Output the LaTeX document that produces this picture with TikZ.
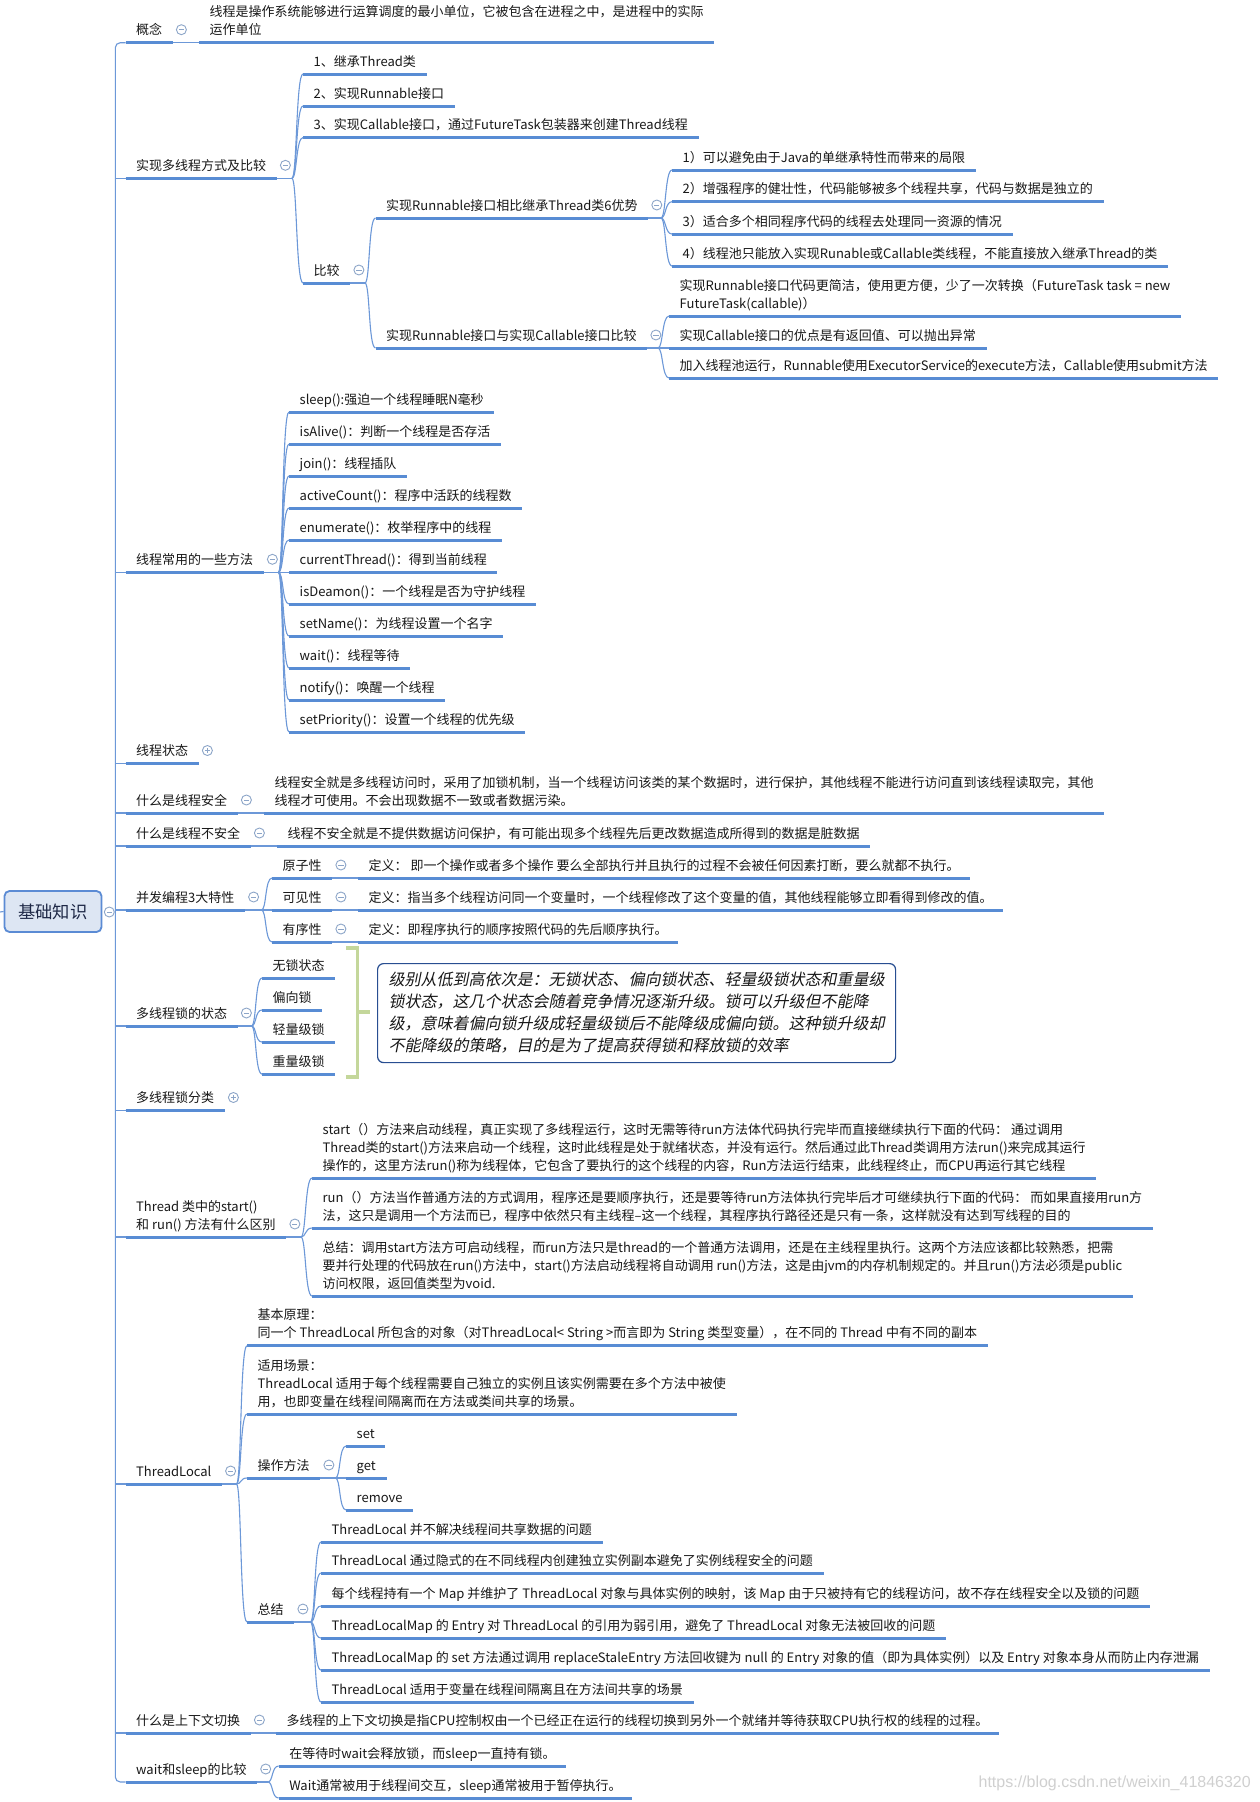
\documentclass[tikz,border=0pt]{standalone}
\usepackage{fontspec}
\setmainfont{Noto Sans CJK SC}
\newfontfamily\xitfont[FakeSlant=0.2]{Noto Sans CJK SC}
\newfontfamily\xwmfont{Liberation Sans}
\usetikzlibrary{calc}
\definecolor{ulc}{RGB}{88,140,212}
\definecolor{cnc}{RGB}{108,152,216}
\definecolor{circc}{RGB}{140,165,200}
\definecolor{txc}{RGB}{24,24,24}
\definecolor{rootfill}{RGB}{221,230,243}
\definecolor{rootdraw}{RGB}{91,139,212}
\definecolor{roottx}{RGB}{30,40,70}
\definecolor{brk}{RGB}{196,215,155}
\definecolor{boxc}{RGB}{40,78,145}
\definecolor{wmc}{RGB}{208,208,208}
\newcommand\xDst{\rule[-4.5pt]{0pt}{4.5pt}}
\newcommand\xTp[3]{\node[xtx] (#1) at (#2) {#3\xDst}; \draw[xul] (#1.south west) -- (#1.south east);}
\newcommand\xCm[1]{\node[xcmin] (#1c) at ($(#1.south east)+(8.5,-13)$) {};}
\newcommand\xCp[1]{\node[xcplus] (#1c) at ($(#1.south east)+(8.5,-13)$) {};}
\newcommand\xSp[2]{\coordinate (#1s) at (#2,0 |- #1.south east); \draw[xconn] (#1.south east) -- (#1s);}
\newcommand\xCh[2]{\draw[xconn] (#1s) .. controls +(5,0) and +(-7,0) .. (#2.south west);}
\newcommand\xLn[2]{\draw[xconn] (#1.south east) -- (#2.south west);}
\begin{document}
\begin{tikzpicture}[x=1pt,y=-1pt,
  xtx/.style={anchor=south west, inner xsep=10.5pt, inner ysep=3.2pt, align=left,
    font=\fontsize{13}{18}\selectfont, text=txc},
  xul/.style={draw=ulc, line width=3pt},
  xconn/.style={draw=cnc, line width=1.1pt},
  xcmin/.style={circle, draw=circc, fill=white, line width=0.9pt, minimum size=10pt, inner sep=0pt,
    path picture={\draw[circc,line width=0.9pt] ([xshift=-2.6pt]path picture bounding box.center) -- ([xshift=2.6pt]path picture bounding box.center);}},
  xcplus/.style={circle, draw=circc, fill=white, line width=0.9pt, minimum size=10pt, inner sep=0pt,
    path picture={\draw[circc,line width=0.9pt] ([xshift=-2.6pt]path picture bounding box.center) -- ([xshift=2.6pt]path picture bounding box.center);
      \draw[circc,line width=0.9pt] ([yshift=-2.6pt]path picture bounding box.center) -- ([yshift=2.6pt]path picture bounding box.center);}},
  brkline/.style={draw=brk, line width=3.2pt}
]
\fill[white] (0,0) rectangle (1260,1802);
\useasboundingbox (0,0) rectangle (1260,1802);

% root
\node[draw=rootdraw, fill=rootfill, rounded corners=5pt, line width=1.8pt,
  minimum width=97pt, minimum height=41pt, inner sep=0pt,
  font=\fontsize{17.3}{20}\selectfont, text=roottx] (R) at (53,911.5) {基础知识};
\node[xcmin] (Rc) at (109.3,912) {};
\coordinate (Rin) at (0,912);
\draw[xconn] (Rin) -- (R.west);

% level 1
\xTp{A1}{125.5,42.7}{概念}
\xTp{A2}{125.5,178.3}{实现多线程方式及比较}
\xTp{A3}{125.5,572.3}{线程常用的一些方法}
\xTp{A4}{125.5,763.5}{线程状态}
\xTp{A5}{125.5,813}{什么是线程安全}
\xTp{A6}{125.5,846}{什么是线程不安全}
\xTp{A7}{125.5,910}{并发编程3大特性}
\xTp{A8}{125.5,1026}{多线程锁的状态}
\xTp{A9}{125.5,1110.5}{多线程锁分类}
\xTp{A10}{125.5,1237}{Thread 类中的start()\\和 run() 方法有什么区别}
\xTp{A11}{125.5,1484}{ThreadLocal}
\xTp{A12}{125.5,1733}{什么是上下文切换}
\xTp{A13}{125.5,1782}{wait和sleep的比较}

% trunk
\coordinate (T0) at (115.3,0 |- Rc.east);
\draw[xconn] (Rc.east) -- (T0);
\draw[xconn, rounded corners=5pt] (A1.south west) -- (115.3,0 |- A1.south west) -- (115.3,0 |- A13.south west) -- (A13.south west);
\foreach \n in {A2,A3,A4,A5,A6,A7,A8,A9,A10,A11,A12}
  \draw[xconn] (115.3,0 |- \n.south west) -- (\n.south west);

% 概念
\xTp{B1}{199,42.7}{线程是操作系统能够进行运算调度的最小单位，它被包含在进程之中，是进程中的实际\\运作单位}
\xLn{A1}{B1}

% 实现多线程方式及比较
\xTp{C1}{303,74}{1、继承Thread类}
\xTp{C2}{303,106}{2、实现Runnable接口}
\xTp{C3}{303,137.5}{3、实现Callable接口，通过FutureTask包装器来创建Thread线程}
\xTp{C4}{303,283}{比较}
\xSp{A2}{292}
\foreach \c in {C1,C2,C3,C4} {\xCh{A2}{\c}}

\xTp{D1}{375.5,218}{实现Runnable接口相比继承Thread类6优势}
\xTp{D2}{375.5,348}{实现Runnable接口与实现Callable接口比较}
\xSp{C4}{365}
\xCh{C4}{D1}\xCh{C4}{D2}

\xTp{E1}{672,170}{1）可以避免由于Java的单继承特性而带来的局限}
\xTp{E2}{672,201.7}{2）增强程序的健壮性，代码能够被多个线程共享，代码与数据是独立的}
\xTp{E3}{672,234}{3）适合多个相同程序代码的线程去处理同一资源的情况}
\xTp{E4}{672,266}{4）线程池只能放入实现Runable或Callable类线程，不能直接放入继承Thread的类}
\xSp{D1}{661}
\foreach \c in {E1,E2,E3,E4} {\xCh{D1}{\c}}

\xTp{F1}{669,316}{实现Runnable接口代码更简洁，使用更方便，少了一次转换（FutureTask task = new\\FutureTask(callable)）}
\xTp{F2}{669,348}{实现Callable接口的优点是有返回值、可以抛出异常}
\xTp{F3}{669,378}{加入线程池运行，Runnable使用ExecutorService的execute方法，Callable使用submit方法}
\xSp{D2}{658}
\foreach \c in {F1,F2,F3} {\xCh{D2}{\c}}

% methods
\xTp{M1}{289,412}{sleep():强迫一个线程睡眠N毫秒}
\xTp{M2}{289,444}{isAlive()：判断一个线程是否存活}
\xTp{M3}{289,476}{join()：线程插队}
\xTp{M4}{289,508}{activeCount()：程序中活跃的线程数}
\xTp{M5}{289,540}{enumerate()：枚举程序中的线程}
\xTp{M6}{289,572.3}{currentThread()：得到当前线程}
\xTp{M7}{289,604}{isDeamon()：一个线程是否为守护线程}
\xTp{M8}{289,636}{setName()：为线程设置一个名字}
\xTp{M9}{289,668}{wait()：线程等待}
\xTp{M10}{289,700}{notify()：唤醒一个线程}
\xTp{M11}{289,732}{setPriority()：设置一个线程的优先级}
\xSp{A3}{278.5}
\foreach \c in {M1,M2,M3,M4,M5,M6,M7,M8,M9,M10,M11} {\xCh{A3}{\c}}

% thread safety
\xTp{B5}{264,813}{线程安全就是多线程访问时，采用了加锁机制，当一个线程访问该类的某个数据时，进行保护，其他线程不能进行访问直到该线程读取完，其他\\线程才可使用。不会出现数据不一致或者数据污染。}
\xLn{A5}{B5}
\xTp{B6}{277,846}{线程不安全就是不提供数据访问保护，有可能出现多个线程先后更改数据造成所得到的数据是脏数据}
\xLn{A6}{B6}

% 3 properties
\xTp{G1}{272,878}{原子性}
\xTp{G2}{272,910}{可见性}
\xTp{G3}{272,942}{有序性}
\xSp{A7}{261.5}
\foreach \c in {G1,G2,G3} {\xCh{A7}{\c}}
\xTp{K1}{358,878}{定义： 即一个操作或者多个操作 要么全部执行并且执行的过程不会被任何因素打断，要么就都不执行。}
\xTp{K2}{358,910}{定义：指当多个线程访问同一个变量时，一个线程修改了这个变量的值，其他线程能够立即看得到修改的值。}
\xTp{K3}{358,942}{定义：即程序执行的顺序按照代码的先后顺序执行。}
\xLn{G1}{K1}\xLn{G2}{K2}\xLn{G3}{K3}

% lock states
\xTp{L1}{262,978}{无锁状态}
\xTp{L2}{262,1010}{偏向锁}
\xTp{L3}{262,1042}{轻量级锁}
\xTp{L4}{262,1074}{重量级锁}
\xSp{A8}{251.5}
\foreach \c in {L1,L2,L3,L4} {\xCh{A8}{\c}}
\draw[brkline] (346,948) -- (357.5,948) -- (357.5,1077) -- (346,1077);
\draw[brkline] (357.5,1012) -- (370,1012);
\node[draw=boxc, line width=1.2pt, rounded corners=6pt, anchor=north west,
  minimum width=518pt, minimum height=99pt, inner xsep=10pt, inner ysep=0pt, align=left,
  font=\xitfont\fontsize{16}{22}\selectfont, text=txc] (Q) at (377,963)
  {\rule{0pt}{15pt}级别从低到高依次是：无锁状态、偏向锁状态、轻量级锁状态和重量级\\锁状态，这几个状态会随着竞争情况逐渐升级。锁可以升级但不能降\\级，意味着偏向锁升级成轻量级锁后不能降级成偏向锁。这种锁升级却\\不能降级的策略，目的是为了提高获得锁和释放锁的效率\rule[-4pt]{0pt}{4pt}};

% start vs run
\xTp{H1}{312,1178}{start（）方法来启动线程，真正实现了多线程运行，这时无需等待run方法体代码执行完毕而直接继续执行下面的代码： 通过调用\\Thread类的start()方法来启动一个线程，这时此线程是处于就绪状态，并没有运行。然后通过此Thread类调用方法run()来完成其运行\\操作的，这里方法run()称为线程体，它包含了要执行的这个线程的内容，Run方法运行结束，此线程终止，而CPU再运行其它线程}
\xTp{H2}{312,1228}{run（）方法当作普通方法的方式调用，程序还是要顺序执行，还是要等待run方法体执行完毕后才可继续执行下面的代码： 而如果直接用run方\\法，这只是调用一个方法而已，程序中依然只有主线程–这一个线程，其程序执行路径还是只有一条，这样就没有达到写线程的目的}
\xTp{H3}{312,1296}{总结：调用start方法方可启动线程，而run方法只是thread的一个普通方法调用，还是在主线程里执行。这两个方法应该都比较熟悉，把需\\要并行处理的代码放在run()方法中，start()方法启动线程将自动调用 run()方法，这是由jvm的内存机制规定的。并且run()方法必须是public\\访问权限，返回值类型为void.}
\xSp{A10}{301}
\foreach \c in {H1,H2,H3} {\xCh{A10}{\c}}

% ThreadLocal
\xTp{T1}{247,1345.7}{基本原理：\\同一个 ThreadLocal 所包含的对象（对ThreadLocal< String >而言即为 String 类型变量），在不同的 Thread 中有不同的副本}
\xTp{T2}{247,1414}{适用场景：\\ThreadLocal 适用于每个线程需要自己独立的实例且该实例需要在多个方法中被使\\用，也即变量在线程间隔离而在方法或类间共享的场景。}
\xTp{T3}{247,1478}{操作方法}
\xTp{T4}{247,1622}{总结}
\xSp{A11}{236.5}
\foreach \c in {T1,T2,T3,T4} {\xCh{A11}{\c}}
\xTp{P1}{346,1446}{set}
\xTp{P2}{346,1478}{get}
\xTp{P3}{346,1510}{remove}
\xSp{T3}{335.5}
\foreach \c in {P1,P2,P3} {\xCh{T3}{\c}}
\xTp{S1}{321,1542}{ThreadLocal 并不解决线程间共享数据的问题}
\xTp{S2}{321,1573}{ThreadLocal 通过隐式的在不同线程内创建独立实例副本避免了实例线程安全的问题}
\xTp{S3}{321,1606}{每个线程持有一个 Map 并维护了 ThreadLocal 对象与具体实例的映射，该 Map 由于只被持有它的线程访问，故不存在线程安全以及锁的问题}
\xTp{S4}{321,1638}{ThreadLocalMap 的 Entry 对 ThreadLocal 的引用为弱引用，避免了 ThreadLocal 对象无法被回收的问题}
\xTp{S5}{321,1670}{ThreadLocalMap 的 set 方法通过调用 replaceStaleEntry 方法回收键为 null 的 Entry 对象的值（即为具体实例）以及 Entry 对象本身从而防止内存泄漏}
\xTp{S6}{321,1702}{ThreadLocal 适用于变量在线程间隔离且在方法间共享的场景}
\xSp{T4}{310.5}
\foreach \c in {S1,S2,S3,S4,S5,S6} {\xCh{T4}{\c}}

% context switch
\xTp{B12}{276,1733}{多线程的上下文切换是指CPU控制权由一个已经正在运行的线程切换到另外一个就绪并等待获取CPU执行权的线程的过程。}
\xLn{A12}{B12}

% wait sleep
\xTp{W1}{278.6,1766}{在等待时wait会释放锁，而sleep一直持有锁。}
\xTp{W2}{278.6,1798}{Wait通常被用于线程间交互，sleep通常被用于暂停执行。}
\xSp{A13}{268}
\xCh{A13}{W1}\xCh{A13}{W2}

% collapse / expand markers
\foreach \n in {A1,A2,C4,D1,D2,A3,A5,A6,A7,G1,G2,G3,A8,A10,A11,T3,T4,A12,A13} {\xCm{\n}}
\foreach \n in {A4,A9} {\xCp{\n}}

% watermark
\node[anchor=east, inner sep=0pt, font=\xwmfont\fontsize{16}{18}\selectfont, text=wmc] (WM) at (1251,1783) {https://blog.csdn.net/weixin\_41846320};
\end{tikzpicture}
\end{document}
